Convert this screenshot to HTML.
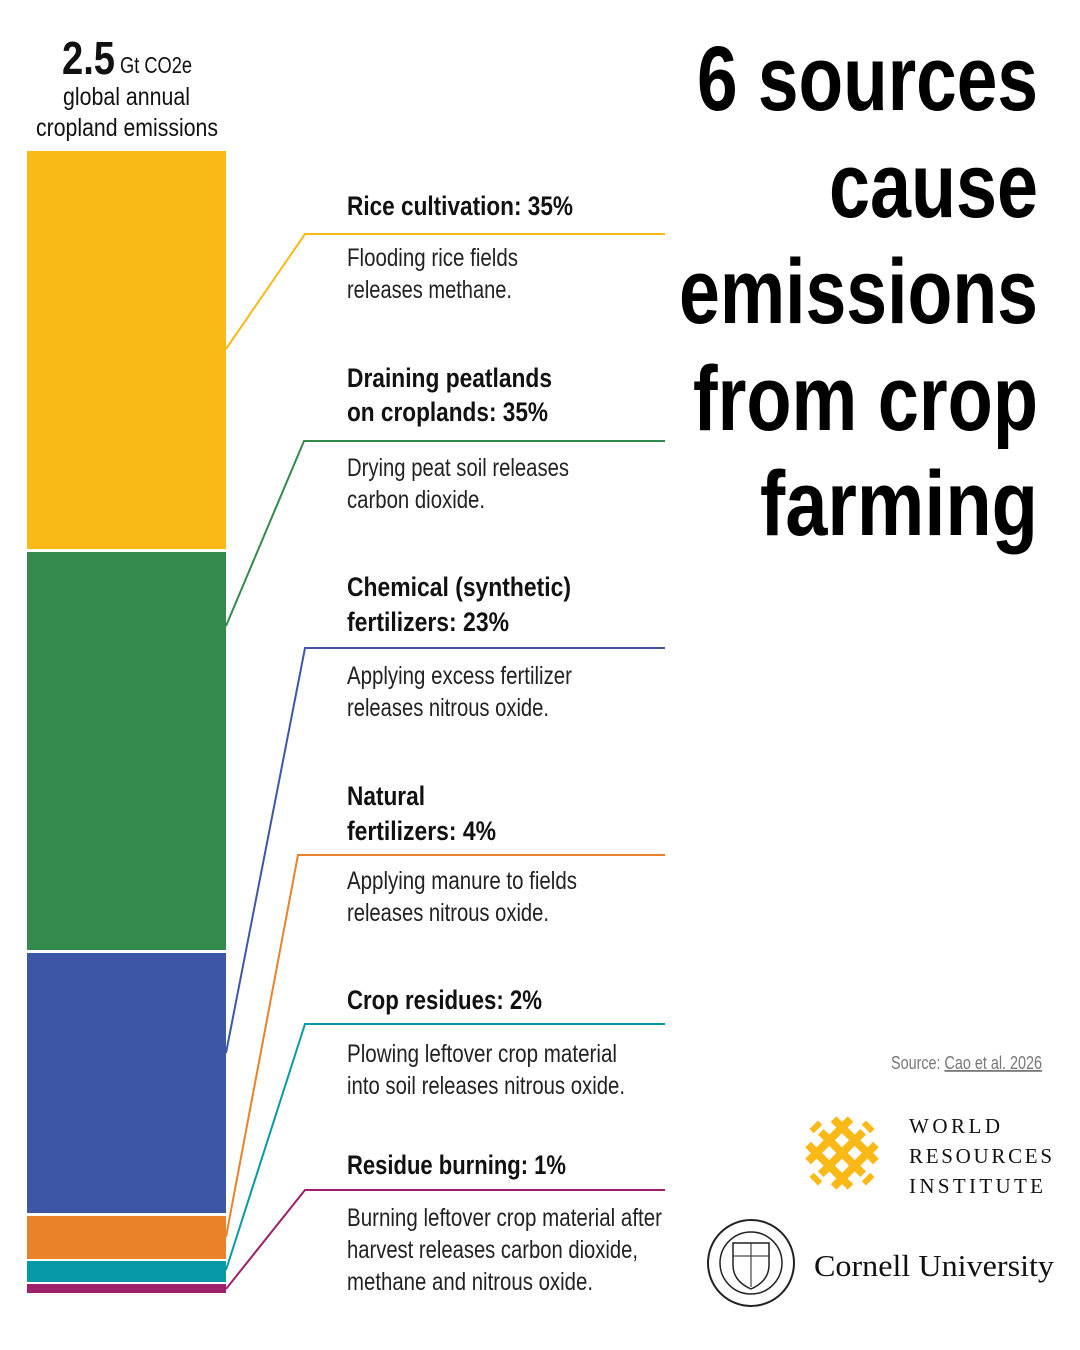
<!DOCTYPE html>
<html><head><meta charset="utf-8"><style>
html,body{margin:0;padding:0;background:#fff;}
svg{display:block;}
.n{font-family:"Liberation Sans Narrow","Liberation Sans",sans-serif;}
</style></head><body>
<svg width="1080" height="1350" viewBox="0 0 1080 1350" xmlns="http://www.w3.org/2000/svg">
<g class="n" fill="#111">
<text x="62" y="74" font-size="46" font-weight="bold" textLength="53" lengthAdjust="spacingAndGlyphs">2.5</text>
<text x="120" y="73" font-size="23" textLength="72" lengthAdjust="spacingAndGlyphs">Gt CO2e</text>
<text x="63" y="105" font-size="25" textLength="127" lengthAdjust="spacingAndGlyphs">global annual</text>
<text x="36" y="136" font-size="25" textLength="182" lengthAdjust="spacingAndGlyphs">cropland emissions</text>
</g>
<rect x="27" y="151" width="199" height="398" fill="#FBB917"/>
<rect x="27" y="552" width="199" height="398" fill="#338A4C"/>
<rect x="27" y="953" width="199" height="260" fill="#3D57A6"/>
<rect x="27" y="1216" width="199" height="43" fill="#E98228"/>
<rect x="27" y="1261" width="199" height="21" fill="#079AA6"/>
<rect x="27" y="1284" width="199" height="9" fill="#9C216A"/>
<g fill="none" stroke-width="2">
<polyline points="226,349 305,234 665,234" stroke="#FBB917"/>
<polyline points="226,626 304,441 665,441" stroke="#338A4C"/>
<polyline points="226,1053 305,648 665,648" stroke="#3D57A6"/>
<polyline points="226,1237 298,855 665,855" stroke="#E98228"/>
<polyline points="226,1270 305,1024 665,1024" stroke="#079AA6"/>
<polyline points="226,1289 305,1190 665,1190" stroke="#9C216A"/>
</g>
<g class="n" fill="#111" font-size="27" font-weight="bold">
<text x="347" y="215" textLength="226" lengthAdjust="spacingAndGlyphs">Rice cultivation: 35%</text>
<text x="347" y="387" textLength="205" lengthAdjust="spacingAndGlyphs">Draining peatlands</text>
<text x="347" y="421" textLength="201" lengthAdjust="spacingAndGlyphs">on croplands: 35%</text>
<text x="347" y="596" textLength="224" lengthAdjust="spacingAndGlyphs">Chemical (synthetic)</text>
<text x="347" y="631" textLength="162" lengthAdjust="spacingAndGlyphs">fertilizers: 23%</text>
<text x="347" y="805" textLength="78" lengthAdjust="spacingAndGlyphs">Natural</text>
<text x="347" y="840" textLength="149" lengthAdjust="spacingAndGlyphs">fertilizers: 4%</text>
<text x="347" y="1009" textLength="195" lengthAdjust="spacingAndGlyphs">Crop residues: 2%</text>
<text x="347" y="1174" textLength="219" lengthAdjust="spacingAndGlyphs">Residue burning: 1%</text>
</g>
<g class="n" fill="#222" font-size="25">
<text x="347" y="266" textLength="171" lengthAdjust="spacingAndGlyphs">Flooding rice fields</text>
<text x="347" y="298" textLength="165" lengthAdjust="spacingAndGlyphs">releases methane.</text>
<text x="347" y="476" textLength="222" lengthAdjust="spacingAndGlyphs">Drying peat soil releases</text>
<text x="347" y="508" textLength="138" lengthAdjust="spacingAndGlyphs">carbon dioxide.</text>
<text x="347" y="684" textLength="225" lengthAdjust="spacingAndGlyphs">Applying excess fertilizer</text>
<text x="347" y="716" textLength="202" lengthAdjust="spacingAndGlyphs">releases nitrous oxide.</text>
<text x="347" y="889" textLength="230" lengthAdjust="spacingAndGlyphs">Applying manure to fields</text>
<text x="347" y="921" textLength="202" lengthAdjust="spacingAndGlyphs">releases nitrous oxide.</text>
<text x="347" y="1062" textLength="270" lengthAdjust="spacingAndGlyphs">Plowing leftover crop material</text>
<text x="347" y="1094" textLength="278" lengthAdjust="spacingAndGlyphs">into soil releases nitrous oxide.</text>
<text x="347" y="1226" textLength="315" lengthAdjust="spacingAndGlyphs">Burning leftover crop material after</text>
<text x="347" y="1258" textLength="291" lengthAdjust="spacingAndGlyphs">harvest releases carbon dioxide,</text>
<text x="347" y="1290" textLength="246" lengthAdjust="spacingAndGlyphs">methane and nitrous oxide.</text>
</g>
<g class="n" fill="#000" font-size="92" font-weight="bold">
<text x="697" y="110" textLength="341" lengthAdjust="spacingAndGlyphs">6 sources</text>
<text x="829" y="217" textLength="209" lengthAdjust="spacingAndGlyphs">cause</text>
<text x="679" y="323" textLength="359" lengthAdjust="spacingAndGlyphs">emissions</text>
<text x="693" y="430" textLength="345" lengthAdjust="spacingAndGlyphs">from crop</text>
<text x="760" y="535" textLength="278" lengthAdjust="spacingAndGlyphs">farming</text>
</g>
<text class="n" x="891" y="1069" font-size="18" fill="#777" textLength="151" lengthAdjust="spacingAndGlyphs">Source: <tspan text-decoration="underline">Cao et al. 2026</tspan></text>
<g transform="translate(842,1153) rotate(45)" fill="#FBB917">
<rect x="-30" y="-22" width="60" height="8"/>
<rect x="-30" y="-4" width="60" height="8"/>
<rect x="-30" y="14" width="60" height="8"/>
<rect x="-22" y="-30" width="8" height="60"/>
<rect x="-4" y="-30" width="8" height="60"/>
<rect x="14" y="-30" width="8" height="60"/>
<rect x="-6" y="-40" width="12" height="6"/>
<rect x="-6" y="34" width="12" height="6"/>
<rect x="-40" y="-6" width="6" height="12"/>
<rect x="34" y="-6" width="6" height="12"/>
</g>
<g font-family="'Liberation Serif',serif" fill="#111" font-size="21">
<text x="909" y="1133" textLength="91" lengthAdjust="spacing">WORLD</text>
<text x="909" y="1163" textLength="143" lengthAdjust="spacing">RESOURCES</text>
<text x="909" y="1193" textLength="134" lengthAdjust="spacing">INSTITUTE</text>
</g>
<g fill="none" stroke="#222">
<circle cx="751" cy="1263" r="43" stroke-width="2"/>
<circle cx="751" cy="1263" r="31" stroke-width="1.5"/>
<path d="M733,1243 h36 v22 q0,16 -18,24 q-18,-8 -18,-24 z" stroke-width="1.5"/>
<line x1="733" y1="1256" x2="769" y2="1256"/>
<line x1="751" y1="1243" x2="751" y2="1287"/>
</g>
<text font-family="'Liberation Serif',serif" x="814" y="1276" font-size="31" fill="#111" textLength="240" lengthAdjust="spacingAndGlyphs">Cornell University</text>
</svg>
</body></html>
